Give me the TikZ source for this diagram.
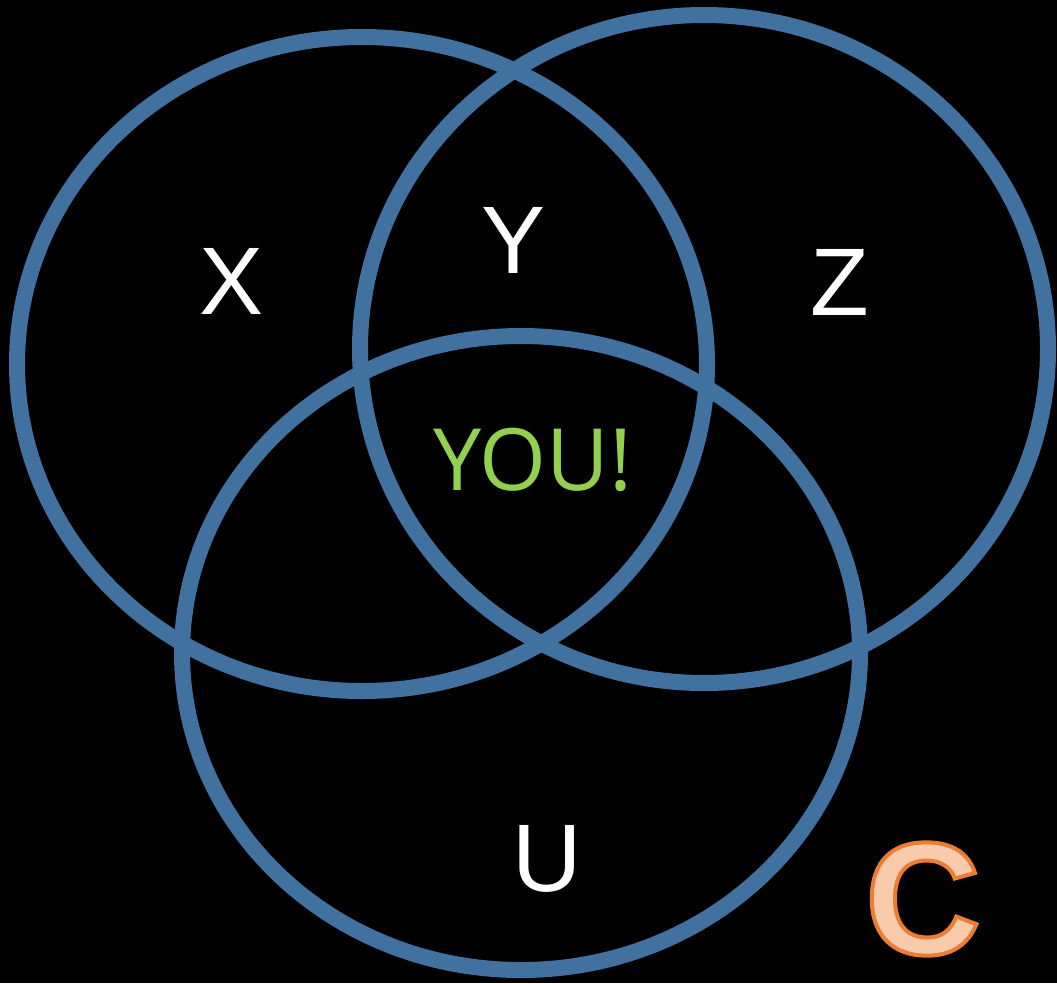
\documentclass[tikz,border=0pt]{standalone}
\usepackage{fontspec}
\setmainfont{Liberation Sans}
\newfontfamily\youfont{Open Sans}
\definecolor{vennblue}{RGB}{65,113,158}
\definecolor{youngreen}{RGB}{146,208,80}
\definecolor{cpeach}{RGB}{248,203,173}
\definecolor{corange}{RGB}{237,125,49}
% filled letter with an orange outline (text render mode 2)
\newcommand\outlined[1]{{\color{cpeach}%
    \special{pdf:literal direct 0.929 0.490 0.192 RG 4 w 2 Tr}#1%
    \special{pdf:literal direct 0 Tr}}}

\begin{document}
\begin{tikzpicture}[x=1pt, y=-1pt,
        ring/.style = {draw=vennblue, line width=16pt},
        lbl/.style  = {text=white, inner sep=0pt, font=\fontsize{96}{96}\selectfont},
        you/.style  = {text=youngreen, inner sep=0pt, font=\youfont\fontsize{86}{86}\selectfont},
        logo/.style = {inner sep=0pt, font=\bfseries\fontsize{160}{160}\selectfont}
    ]
        \fill[black] (0,0) rectangle (1057,983);
        \useasboundingbox (0,0) rectangle (1057,983);

        % the three sets
        \draw[ring] (362,364) ellipse [x radius=345, y radius=327];
        \draw[ring] (704,349) ellipse [x radius=344, y radius=334];
        \draw[ring] (521,653) ellipse [x radius=339, y radius=317];

        \node[lbl] (x)   at (232,281) {X};
        \node[lbl] (y)   at (514,240) {Y};
        \node[lbl] (z)   at (840,282) {Z};
        \node[lbl] (u)   at (547,859) {U};
        \node[you] (mid) at (533,460) {YOU!};

        \node[logo] (c) at (923,899) {\outlined{C}};
    \end{tikzpicture}
\end{document}
